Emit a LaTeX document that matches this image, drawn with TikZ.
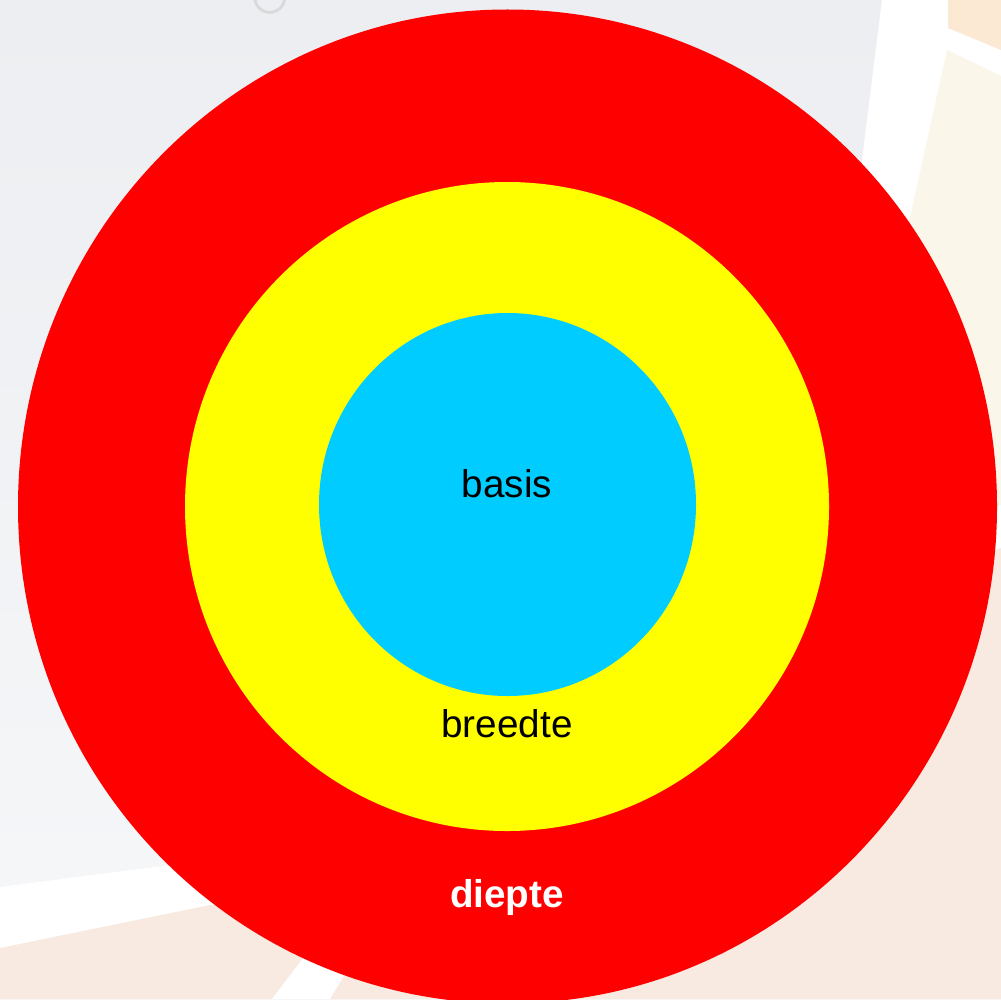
\documentclass[tikz,border=0pt]{standalone}
\usepackage{fontspec}
\setmainfont{Liberation Sans}
\definecolor{ringOuter}{RGB}{255,0,0}
\definecolor{ringMiddle}{RGB}{255,255,0}
\definecolor{ringInner}{RGB}{0,204,255}
\definecolor{backGrey}{RGB}{237,238,241}
\definecolor{backLight}{RGB}{246,247,249}
\definecolor{backPeach}{RGB}{252,233,212}
\definecolor{backCream}{RGB}{250,246,234}
\definecolor{backBeige}{RGB}{248,234,224}
\tikzset{ring/.style={draw=none},
 ringtext/.style={anchor=base,inner sep=0pt,font=\fontsize{11}{13}\selectfont},
 every picture/.style={line join=round,line cap=round}}
\begin{document}
\begin{tikzpicture}[x=0.01cm,y=0.01cm]
\useasboundingbox (0,0) rectangle (1001,999);
% background photo, roughly
\shade[top color=backGrey,bottom color=backLight] (0,0) rectangle (1001,999);
\fill[white] (882,999) -- (1001,999) -- (1001,380) -- (845,380) -- (862,839) -- cycle;
\fill[backPeach] (948,999) -- (1001,999) -- (1001,949) -- (948,971) -- cycle;
\fill[backCream] (947,949) -- (1001,923) -- (1001,494) -- (900,460) -- (905,759) -- cycle;
\fill[white] (0,112) -- (600,190) -- (600,90) -- (0,51) -- cycle;
\fill[backBeige] (1001,451) -- (900,415) -- (600,130) -- (210,94) -- (0,51) -- (0,0) -- (1001,0) -- cycle;
\fill[white] (272,0) -- (330,0) -- (360,50) -- (310,50) -- cycle;
\draw[black!15,line width=0.8] (255,999) arc[start angle=190,end angle=350,radius=15];
% rings
\fill[ring,ringOuter] (507.5,492.5) ellipse [x radius=489.5,y radius=497];
\fill[ring,ringMiddle] (507,492.5) ellipse [x radius=322,y radius=324.5];
\fill[ring,ringInner] (507.5,494.5) ellipse [x radius=188.5,y radius=191.5];
\node[ringtext] (basis) at (507,502) {basis};
\node[ringtext] (breedte) at (507,262) {breedte};
\node[ringtext,text=white,font=\fontsize{11}{13}\selectfont\bfseries] (diepte) at (507,92) {diepte};
\end{tikzpicture}
\end{document}
